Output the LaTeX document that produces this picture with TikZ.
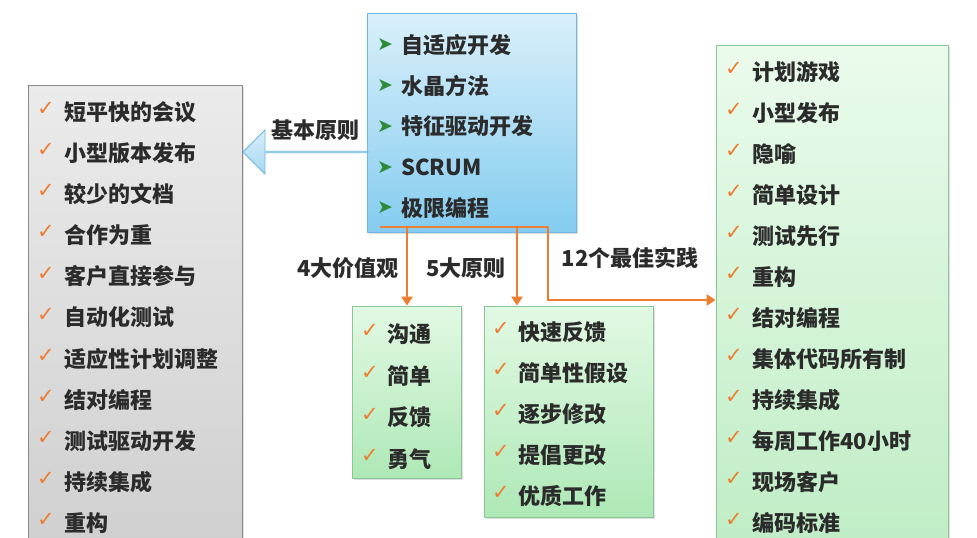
\documentclass[tikz,border=0pt]{standalone}
\usepackage{fontspec}
\setmainfont{Noto Sans CJK SC}
\newfontfamily\symfont{DejaVu Sans}
\usetikzlibrary{shapes.arrows,shadows,arrows.meta}
\definecolor{txt}{HTML}{2B2B2B}
\definecolor{orng}{HTML}{ED7D31}
\definecolor{bul}{HTML}{2E8B3A}
\definecolor{bluetop}{HTML}{DAF0FB}
\definecolor{bluebot}{HTML}{84CCEF}
\definecolor{blueedge}{HTML}{6AB8E0}
\definecolor{graytop}{HTML}{EBEBEB}
\definecolor{graybot}{HTML}{CFCFCF}
\definecolor{grayedge}{HTML}{8A8A8A}
\definecolor{greentop}{HTML}{E2F9E4}
\definecolor{greenbot}{HTML}{AEE8B6}
\definecolor{greenedge}{HTML}{8CC698}
\definecolor{arrowfill}{HTML}{A6D8F2}
\begin{document}
\begin{tikzpicture}[x=1pt, y=-1pt,
        box/.style={rectangle, draw, line width=0.8pt, inner sep=0pt, drop shadow={opacity=0.25, shadow xshift=2pt, shadow yshift=-2pt}},
        bluebox/.style={box, draw=blueedge, top color=bluetop, bottom color=bluebot},
        graybox/.style={box, draw=grayedge, top color=graytop, bottom color=graybot},
        greenbox/.style={box, draw=greenedge, top color=greentop, bottom color=greenbot},
        item/.style={anchor=west, inner sep=0pt, font=\fontsize{22}{25}\selectfont\bfseries, text=txt},
        tick/.style={inner sep=0pt, font=\symfont\fontsize{21}{24}\selectfont, text=orng},
        pointer/.style={inner sep=0pt, font=\symfont\fontsize{19}{22}\selectfont, text=bul},
        label/.style={inner sep=0pt, font=\fontsize{22}{25}\selectfont\bfseries, text=txt},
        link/.style={draw=orng, line width=2.6pt},
        linkarrow/.style={link, -{Triangle[length=9pt, width=11pt]}}
    ]
        \useasboundingbox (0,0) rectangle (977,538);

        % boxes
        \node[bluebox, minimum width=209pt, minimum height=219pt] (methods) at (471.5,122.5) {};
        \node[graybox, minimum width=214pt, minimum height=470pt] (basic) at (135,320) {};
        \node[greenbox, minimum width=109pt, minimum height=172pt] (values) at (406.5,392) {};
        \node[greenbox, minimum width=169pt, minimum height=211pt] (rules) at (568.5,411.5) {};
        \node[greenbox, minimum width=232pt, minimum height=510pt, top color=greentop!70!white, bottom color=greenbot!80!white] (practice) at (832,300) {};

        % agile methods
        \foreach \t [count=\i] in {自适应开发, 水晶方法, 特征驱动开发, SCRUM, 极限编程}
        {
            \node[pointer] (mp\i) at (385, {45+40.75*(\i-1)}) {➤};
            \node[item] (m\i) at (401, {45+40.75*(\i-1)}) {\t};
        }

        % basic principles
        \foreach \t [count=\i] in {短平快的会议, 小型版本发布, 较少的文档, 合作为重, 客户直接参与, 自动化测试, 适应性计划调整, 结对编程, 测试驱动开发, 持续集成, 重构}
        {
            \node[tick] (bt\i) at (46, {109+41.1*(\i-1)}) {✓};
            \node[item] (b\i) at (64, {112+41.1*(\i-1)}) {\t};
        }

        % values
        \foreach \t [count=\i] in {沟通, 简单, 反馈, 勇气}
        {
            \node[tick] (vt\i) at (370, {331+41.7*(\i-1)}) {✓};
            \node[item] (v\i) at (387, {334+41.7*(\i-1)}) {\t};
        }

        % rules
        \foreach \t [count=\i] in {快速反馈, 简单性假设, 逐步修改, 提倡更改, 优质工作}
        {
            \node[tick] (rt\i) at (501, {329+41*(\i-1)}) {✓};
            \node[item] (r\i) at (518, {332+41*(\i-1)}) {\t};
        }

        % practices
        \foreach \t [count=\i] in {计划游戏, 小型发布, 隐喻, 简单设计, 测试先行, 重构, 结对编程, 集体代码所有制, 持续集成, 每周工作40小时, 现场客户, 编码标准}
        {
            \node[tick] (pt\i) at (734, {69+41*(\i-1)}) {✓};
            \node[item] (p\i) at (752, {72+41*(\i-1)}) {\t};
        }

        % block arrow to basic principles
        \node[single arrow, shape border rotate=180, draw=blueedge, line width=0.8pt, top color=arrowfill!45!white, bottom color=arrowfill,
              minimum height=125pt, minimum width=44pt, single arrow head extend=12pt, inner sep=0pt, anchor=tip] (toBasic) at (basic.east |- 0,152) {};
        \node[label] (lbasic) at (315,130) {基本原则};

        % orange connectors
        \coordinate (busL) at (380,227);
        \coordinate (busR) at (548,227);
        \coordinate (tapV) at (407,227);
        \coordinate (tapR) at (517,227);
        \draw[link] (busL) -- (busR);
        \draw[linkarrow] (tapV) -- (tapV |- values.north);
        \draw[linkarrow] (tapR) -- (tapR |- rules.north);
        \draw[linkarrow] (busR) |- (practice.west);
        \node[label] (lvalues) at (348,268) {4大价值观};
        \node[label] (lrules) at (466,268) {5大原则};
        \node[label] (lpractice) at (630,258) {12个最佳实践};
    \end{tikzpicture}
\end{document}
